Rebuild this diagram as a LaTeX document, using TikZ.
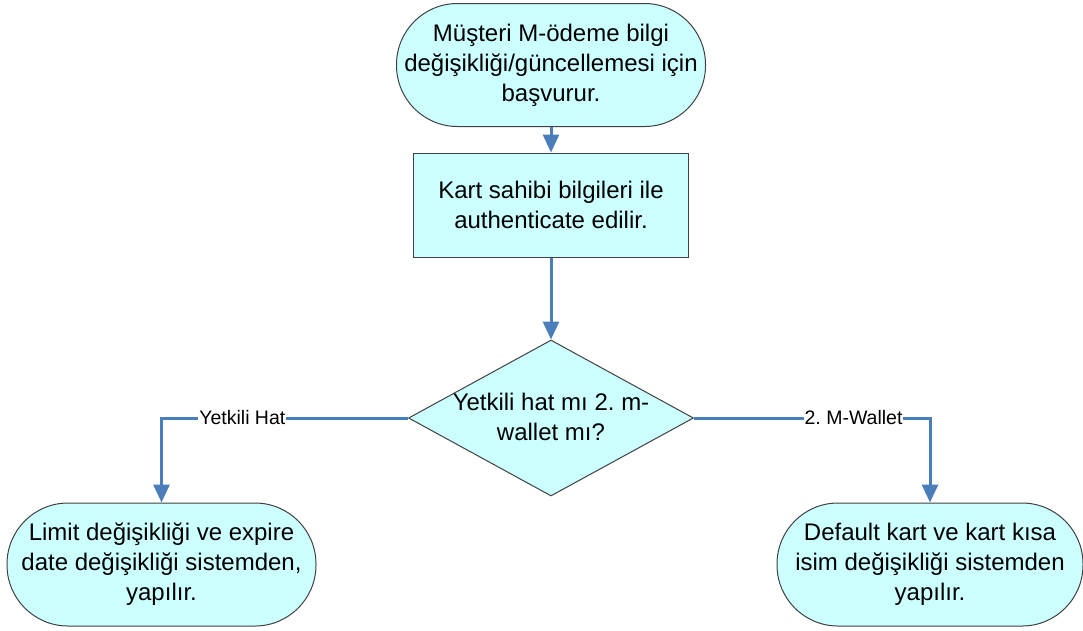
\documentclass[tikz,border=0pt]{standalone}
\usepackage{fontspec}
\setmainfont{Liberation Sans}
\usetikzlibrary{arrows.meta,shapes.geometric}
\definecolor{boxfill}{HTML}{CCFFFF}
\definecolor{flow}{HTML}{4A7EBB}
\definecolor{edgecol}{HTML}{404040}
\begin{document}
\frenchspacing
\begin{tikzpicture}[x=1pt,y=-1pt,
  every node/.style={font=\fontsize{24}{30}\selectfont, text=black},
  term/.style={draw=edgecol, line width=1pt, fill=boxfill, rounded corners=61pt,
    minimum width=309pt, minimum height=123pt, align=center, inner sep=0pt},
  proc/.style={draw=edgecol, line width=1pt, fill=boxfill,
    minimum width=275pt, minimum height=104pt, align=center, inner sep=0pt},
  decision/.style={diamond, draw=edgecol, line width=1pt, fill=boxfill,
    minimum width=285pt, minimum height=156pt, inner sep=0pt},
  dtext/.style={align=center, inner sep=0pt},
  flowline/.style={draw=flow, line width=3pt, -{Triangle[length=18pt,width=16pt]}},
  lbl/.style={font=\fontsize{19.5}{22}\selectfont, fill=white, inner sep=1pt}]
\useasboundingbox (0,0) rectangle (1083,630);

\node[term] (start) at (551,65) {Müşteri M-ödeme bilgi\\değişikliği/güncellemesi için\\başvurur.};
\node[proc] (auth) at (551,205) {Kart sahibi bilgileri ile\\authenticate edilir.};
\node[decision] (dec) at (551,418) {};
\node[dtext] (dectext) at (551,417) {Yetkili hat mı 2. m-\\wallet mı?};
\node[term] (left) at (161.5,564.5) {Limit değişikliği ve expire\\date değişikliği sistemden,\\yapılır.};
\node[term, minimum width=306pt] (right) at (930,564.5) {Default kart ve kart kısa\\isim değişikliği sistemden\\yapılır.};

\draw[flowline] (start) -- (auth);
\draw[flowline] (auth) -- (dec);
\draw[flowline] (dec.west) -| node[lbl, pos=0.336] {Yetkili Hat} (left.north);
\draw[flowline] (dec.east) -| node[lbl, pos=0.338] {2. M-Wallet} (right.north);
\end{tikzpicture}
\end{document}
